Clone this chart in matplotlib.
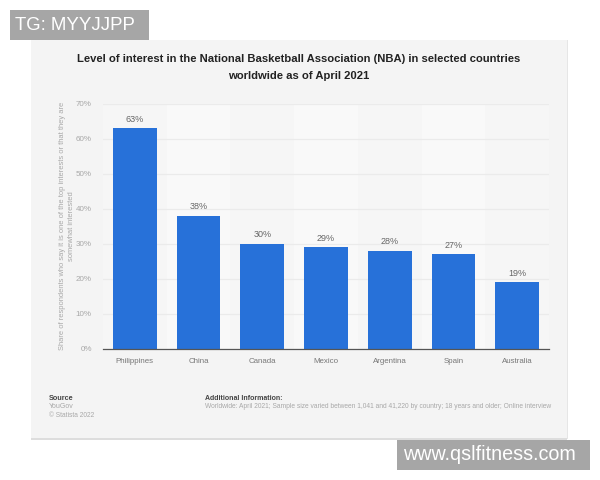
import matplotlib
matplotlib.use("Agg")
import matplotlib.pyplot as plt
from matplotlib.patches import Rectangle

plt.rcParams["font.family"] = ["Liberation Sans", "DejaVu Sans"]

countries = ["Philippines", "China", "Canada", "Mexico", "Argentina", "Spain", "Australia"]
interest = [63, 38, 30, 29, 28, 27, 19]
y_ticks = [0, 10, 20, 30, 40, 50, 60, 70]
lighter_columns = [1, 3, 5]

W, H = 600, 480


def fx(px):
    return px / W


def fy(py):
    return 1 - py / H


def add_box(fig, x0, y0, x1, y1, color, z=0):
    fig.add_artist(Rectangle((fx(x0), fy(y1)), (x1 - x0) / W, (y1 - y0) / H,
                             transform=fig.transFigure, facecolor=color,
                             edgecolor="none", zorder=z))


fig = plt.figure(figsize=(6, 4.8), dpi=100, facecolor="white")

# --- card behind the chart ---
add_box(fig, 31, 40, 567, 439, "#f4f4f4", z=-2)
add_box(fig, 31, 438, 567, 439.5, "#dddddd", z=-1)
add_box(fig, 566.5, 40, 567.5, 439, "#e6e6e6", z=-1)

# --- plot area ---
ax = fig.add_axes([fx(103), fy(348.8), (549 - 103) / W, (348.8 - 103.5) / H])
ax.patch.set_alpha(0)
ax.set_xlim(-0.5, 6.5)
ax.set_ylim(0, 70)

for i in range(len(countries)):
    ax.axvspan(i - 0.5, i + 0.5, color="#f9f9f9" if i in lighter_columns else "#f6f6f6",
               lw=0, zorder=0)

ax.bar(range(len(countries)), interest, width=0.685, color="#2771d9", zorder=3)

for i, v in enumerate(interest):
    ax.annotate(f"{v}%", xy=(i, v), xytext=(0, 3.2), textcoords="offset points",
                ha="center", va="bottom", fontsize=6.5, color="#666666", zorder=4)

ax.set_yticks(y_ticks)
ax.set_yticklabels([f"{t}%" for t in y_ticks], fontsize=5.8, color="#a8a8a8")
ax.set_xticks(range(len(countries)))
ax.set_xticklabels(countries, fontsize=5.7, color="#777777")
ax.tick_params(axis="both", length=0)
ax.tick_params(axis="y", pad=8)
ax.tick_params(axis="x", pad=6.5)
ax.grid(axis="y", color="#ebebeb", lw=0.9, zorder=1)
ax.set_axisbelow(True)
for side in ["top", "right", "left"]:
    ax.spines[side].set_visible(False)
ax.spines["bottom"].set_color("#555555")
ax.spines["bottom"].set_linewidth(0.9)
ax.spines["bottom"].set_zorder(5)

fig.text(fx(67), fy(226), "Share of respondents who say it is one of the top interests or that they are\nsomewhat interested",
         rotation=90, ha="center", va="center", multialignment="center",
         fontsize=5.45, color="#a8a8a8", linespacing=1.35)

# --- title ---
fig.text(fx(299), fy(59), "Level of interest in the National Basketball Association (NBA) in selected countries",
         ha="center", va="center", fontsize=8.08, fontweight="bold", color="#222222")
fig.text(fx(299), fy(76), "worldwide as of April 2021",
         ha="center", va="center", fontsize=8.08, fontweight="bold", color="#222222")

# --- footer ---
fig.text(fx(49), fy(398), "Source", ha="left", va="center", fontsize=5.2, fontweight="bold", color="#444444")
fig.text(fx(49), fy(407), "YouGov", ha="left", va="center", fontsize=5, color="#a8a8a8")
fig.text(fx(49), fy(415.5), "© Statista 2022", ha="left", va="center", fontsize=4.8, color="#a8a8a8")
fig.text(fx(205), fy(398), "Additional Information:", ha="left", va="center", fontsize=5.0, fontweight="bold", color="#444444")
fig.text(fx(205), fy(407),
         "Worldwide: April 2021; Sample size varied between 1,041 and 41,220 by country; 18 years and older; Online interview",
         ha="left", va="center", fontsize=4.78, color="#a8a8a8")

# --- watermarks ---
add_box(fig, 10, 10, 149, 40, "#a6a6a6", z=1)
fig.text(fx(15), fy(25), "TG: MYYJJPP", ha="left", va="center", fontsize=13.4, color="white", zorder=2)
add_box(fig, 397, 440, 590, 470, "#a6a6a6", z=1)
fig.text(fx(403), fy(455), "www.qslfitness.com", ha="left", va="center", fontsize=14.2, color="white", zorder=2)

fig.savefig("out.png", dpi=100)
